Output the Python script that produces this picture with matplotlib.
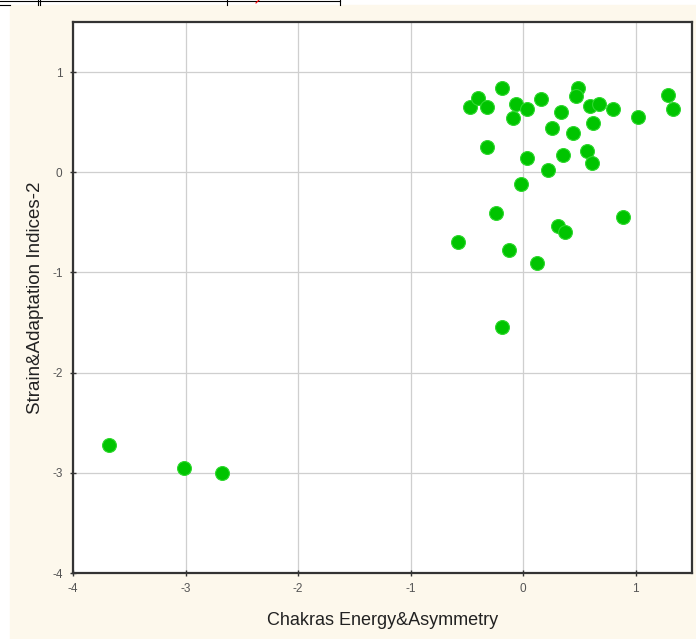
import matplotlib.pyplot as plt
from matplotlib.lines import Line2D
from matplotlib.patches import Rectangle

# values
energy_asym = [-0.47, -0.40, -0.32, -0.19, -0.06, -0.09, 0.03, 0.16, 0.49, 0.47,
               0.34, 0.59, 0.67, 0.80, 1.02, 1.29, 1.33, 0.26, 0.44, 0.62,
               -0.32, 0.03, 0.35, 0.57, 0.61, 0.22, -0.02, -0.24, 0.89, 0.31,
               0.37, -0.58, -0.13, 0.12, -0.19, -3.68, -3.01, -2.68]
strain_adapt = [0.65, 0.74, 0.65, 0.84, 0.68, 0.54, 0.63, 0.73, 0.84, 0.76,
                0.60, 0.66, 0.68, 0.63, 0.55, 0.77, 0.63, 0.44, 0.39, 0.49,
                0.25, 0.14, 0.17, 0.21, 0.09, 0.02, -0.12, -0.41, -0.45, -0.54,
                -0.60, -0.70, -0.78, -0.91, -1.54, -2.72, -2.95, -3.00]
x_ticks = [-4, -3, -2, -1, 0, 1]
y_ticks = [-4, -3, -2, -1, 0, 1]

fig = plt.figure(figsize=(6.96, 6.39), dpi=100, facecolor='white')
plt.rcParams['font.family'] = ['Liberation Sans', 'DejaVu Sans']
plt.rcParams['axes.unicode_minus'] = False

# beige page background behind the chart
fig.patches.append(Rectangle((10/696, 0), 1 - 10/696, 1 - 5/639,
                             transform=fig.transFigure, color='#fdf8ec', zorder=-10))
# remains of the table above the figure
fig.lines.append(Line2D([0, 340/696], [1 - 1/639, 1 - 1/639], transform=fig.transFigure,
                        color='black', lw=0.8))
fig.lines.append(Line2D([0, 10/696], [1 - 5/639, 1 - 5/639], transform=fig.transFigure,
                        color='black', lw=0.8))
for px in [38, 40, 227, 340]:
    fig.lines.append(Line2D([px/696, px/696], [1 - 5/639, 1], transform=fig.transFigure,
                            color='black', lw=0.8))
fig.lines.append(Line2D([256/696, 259/696], [1 - 3/639, 1], transform=fig.transFigure,
                        color='red', lw=0.8))

ax = fig.add_axes([73/696, 1 - 573/639, (692 - 73)/696, (573 - 22)/639])
ax.set_facecolor('white')
ax.scatter(energy_asym, strain_adapt, s=100, color='#00c400', edgecolors='#30d830',
           linewidths=0.8, zorder=3)

ax.set_xlim(-4, 1.5)
ax.set_ylim(-4, 1.5)
ax.set_xticks(x_ticks)
ax.set_yticks(y_ticks)
ax.grid(True, color='#cfcfcf', linewidth=0.9)
ax.set_axisbelow(True)
for side in ax.spines.values():
    side.set_color('#333333')
    side.set_linewidth(1.6)
ax.tick_params(direction='inout', length=5, width=1, color='#333333',
               labelsize=8.5, labelcolor='#555555', pad=5)

ax.set_xlabel('Chakras Energy&Asymmetry', fontsize=13, color='#222222', labelpad=12)
ax.set_ylabel('Strain&Adaptation Indices-2', fontsize=13.5, color='#222222', labelpad=6)

fig.savefig('out.png', dpi=100, facecolor=fig.get_facecolor())
